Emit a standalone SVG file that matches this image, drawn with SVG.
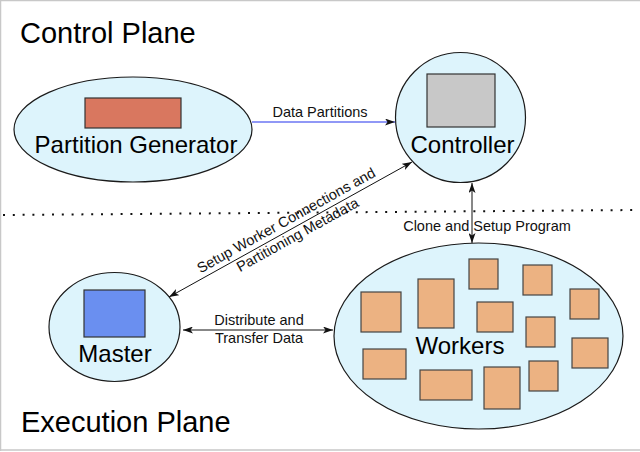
<svg xmlns="http://www.w3.org/2000/svg" width="640" height="452" viewBox="0 0 640 452">
<style>
  .bubble { fill: #ddf4fc; stroke: #1a1a1a; stroke-width: 1.2; }
  .box { stroke: #333; stroke-width: 1.2; }
  .worker { fill: #ecb282; stroke: #444; stroke-width: 1.2; }
  .big { font-family: "Liberation Sans", Arial, sans-serif; font-size: 24px; fill: #000; text-anchor: middle; }
  .plane { font-family: "Liberation Sans", Arial, sans-serif; font-size: 29px; fill: #000; }
  .lbl { font-family: "Liberation Sans", Arial, sans-serif; font-size: 14.5px; fill: #111; text-anchor: middle; }
  .conn { stroke: #111; stroke-width: 1; fill: none; }
</style>
<defs>
  <marker id="ah" viewBox="0 0 10 7" refX="10" refY="3.5" markerWidth="10" markerHeight="7" markerUnits="userSpaceOnUse" orient="auto-start-reverse">
    <path d="M0,0 L10,3.5 L0,7 L2.5,3.5 z" fill="#111"/>
  </marker>
</defs>
<rect width="640" height="452" fill="#fff"/>
<path d="M0.5,451 L0.5,0.5 L640,0.5 M0,450 L640,450" fill="none" stroke="#c8c8c8" stroke-width="1.5"/>

<text class="plane" x="20" y="43">Control Plane</text>
<text class="plane" x="21" y="432">Execution Plane</text>

<line x1="3" y1="215" x2="637" y2="210" stroke="#111" stroke-width="2" stroke-dasharray="2 7.8"/>

<g id="partition-generator">
  <ellipse class="bubble" cx="133" cy="129.5" rx="119" ry="52.5"/>
  <rect class="box" x="85" y="98" width="96" height="30" fill="#d9775f"/>
  <text class="big" x="136" y="153">Partition Generator</text>
</g>

<g id="controller">
  <circle class="bubble" cx="460.5" cy="117.5" r="65"/>
  <rect class="box" x="427" y="74" width="68" height="53" fill="#c8c8c8"/>
  <text class="big" x="462.5" y="153">Controller</text>
</g>

<g id="master">
  <ellipse class="bubble" cx="114.5" cy="327" rx="65.5" ry="54.5"/>
  <rect class="box" x="84" y="290" width="61" height="47" fill="#6a8ff0"/>
  <text class="big" x="115" y="362">Master</text>
</g>

<g id="workers">
  <ellipse class="bubble" cx="478.5" cy="336" rx="144.5" ry="93"/>
  <rect class="worker" x="361" y="292" width="40" height="40"/>
  <rect class="worker" x="418" y="279" width="36" height="49"/>
  <rect class="worker" x="469" y="259" width="29" height="30"/>
  <rect class="worker" x="523" y="265" width="29" height="30"/>
  <rect class="worker" x="570" y="289" width="29" height="30"/>
  <rect class="worker" x="477" y="302" width="36" height="30"/>
  <rect class="worker" x="526" y="317" width="29" height="30"/>
  <rect class="worker" x="572" y="338" width="36" height="30"/>
  <rect class="worker" x="363" y="349" width="43" height="30"/>
  <rect class="worker" x="420" y="370" width="52" height="30"/>
  <rect class="worker" x="484" y="367" width="36" height="42"/>
  <rect class="worker" x="529" y="361" width="29" height="30"/>
  <text class="big" x="460" y="354">Workers</text>
</g>

<g id="connectors">
  <line x1="252" y1="122" x2="395" y2="122" stroke="#2233ee" stroke-width="1.2" marker-end="url(#ah)"/>
  <text class="lbl" x="320" y="117">Data Partitions</text>

  <line class="conn" x1="472" y1="183" x2="472" y2="243" marker-start="url(#ah)" marker-end="url(#ah)"/>
  <text class="lbl" x="487" y="231">Clone and Setup Program</text>

  <line class="conn" x1="183" y1="330" x2="333" y2="330" marker-start="url(#ah)" marker-end="url(#ah)"/>
  <text class="lbl" x="259" y="325">Distribute and</text>
  <text class="lbl" x="259" y="343">Transfer Data</text>

  <line class="conn" x1="169" y1="297" x2="412" y2="162" marker-start="url(#ah)" marker-end="url(#ah)"/>
  <g transform="translate(290,229.5) rotate(-29)">
    <text class="lbl" x="1" y="-5">Setup Worker Connections and</text>
    <text class="lbl" x="4" y="13">Partitioning Metadata</text>
  </g>
</g>
</svg>
